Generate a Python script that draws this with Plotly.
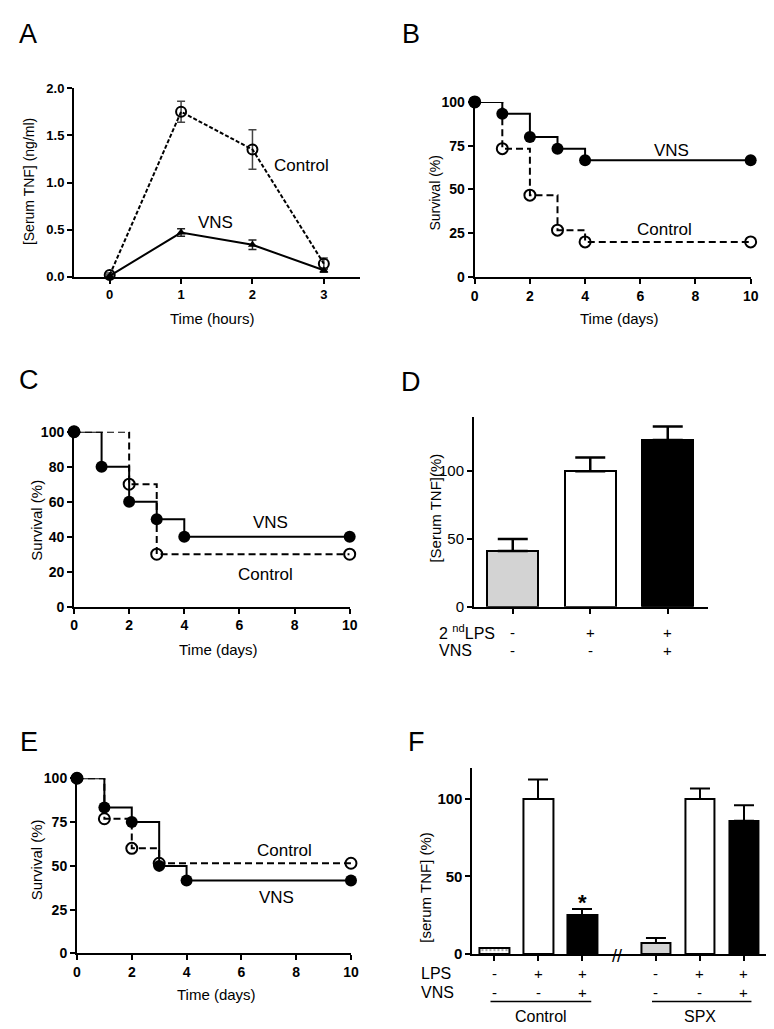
import plotly.graph_objects as go

# ---- data ----
# A: serum TNF over time
hours = [0, 1, 2, 3]
tnf_control = [0.02, 1.75, 1.35, 0.14]
tnf_control_err = [0.02, 0.11, 0.21, 0.06]
tnf_vns = [0.01, 0.47, 0.34, 0.07]
tnf_vns_err = [0.01, 0.04, 0.05, 0.02]

# B: survival
b_days_vns = [0, 1, 2, 3, 4, 10]
b_surv_vns = [100, 93.3, 80, 73.3, 66.7, 66.7]
b_days_ctrl = [0, 1, 2, 3, 4, 10]
b_surv_ctrl = [100, 73.3, 46.7, 26.7, 20, 20]

# C: survival
c_days_vns = [0, 1, 2, 3, 4, 10]
c_surv_vns = [100, 80, 60, 50, 40, 40]
c_days_ctrl = [0, 2, 3, 10]
c_surv_ctrl = [100, 70, 30, 30]

# D: serum TNF (%)
d_values = [41, 100, 123]
d_err = [9, 10, 10]
d_colors = ["#d3d3d3", "white", "black"]
d_lps = ["-", "+", "+"]
d_vns = ["-", "-", "+"]

# E: survival after SPX
e_days_vns = [0, 1, 2, 3, 4, 10]
e_surv_vns = [100, 83.3, 75, 50, 41.7, 41.7]
e_days_ctrl = [0, 1, 2, 3, 10]
e_surv_ctrl = [100, 76.9, 60, 51.5, 51.5]

# F: serum TNF (%), control vs SPX
f_values = [3.8, 100, 25, 7, 100, 86]
f_err = [0, 12.6, 4, 3.2, 6.8, 10]
f_colors = ["white", "white", "black", "#d3d3d3", "white", "black"]
f_lps = ["-", "+", "+", "-", "+", "+"]
f_vns = ["-", "-", "+", "-", "-", "+"]
f_gap = 0.68  # extra space at the axis break

W, H = 774, 1029
FONT = "Liberation Sans, Arial, sans-serif"


def px(x):
    return x / W


def py(y):
    return 1 - y / H


fig = go.Figure()

# ---- A ----
fig.add_trace(go.Scatter(
    x=hours, y=tnf_control, mode="lines+markers", xaxis="x", yaxis="y",
    line=dict(color="black", width=2, dash="4px,2px"),
    marker=dict(symbol="circle-open", size=10, color="black", line=dict(width=2)),
    error_y=dict(type="data", array=tnf_control_err, color="#444", thickness=1.5, width=4),
    cliponaxis=False))
fig.add_trace(go.Scatter(
    x=hours, y=tnf_vns, mode="lines+markers", xaxis="x", yaxis="y",
    line=dict(color="black", width=2),
    marker=dict(symbol="triangle-up", size=8, color="black"),
    error_y=dict(type="data", array=tnf_vns_err, color="#222", thickness=1.5, width=4),
    cliponaxis=False))


def survival(days_c, surv_c, days_v, surv_v, xa, ya):
    fig.add_trace(go.Scatter(
        x=days_c, y=surv_c, mode="lines+markers", xaxis=xa, yaxis=ya,
        line=dict(color="black", width=2, dash="7px,4px", shape="hv"),
        marker=dict(symbol="circle-open", size=11, color="black", line=dict(width=2)),
        cliponaxis=False))
    fig.add_trace(go.Scatter(
        x=days_v, y=surv_v, mode="lines+markers", xaxis=xa, yaxis=ya,
        line=dict(color="black", width=2, shape="hv"),
        marker=dict(symbol="circle", size=12, color="black"),
        cliponaxis=False))


survival(b_days_ctrl, b_surv_ctrl, b_days_vns, b_surv_vns, "x2", "y2")
survival(c_days_ctrl, c_surv_ctrl, c_days_vns, c_surv_vns, "x3", "y3")
survival(e_days_ctrl, e_surv_ctrl, e_days_vns, e_surv_vns, "x5", "y5")

# ---- D ----
d_x = list(range(len(d_values)))
fig.add_trace(go.Bar(
    x=d_x, y=d_values, xaxis="x4", yaxis="y4", width=0.66,
    marker=dict(color=d_colors, line=dict(color="black", width=2)),
    error_y=dict(type="data", array=d_err, arrayminus=[0] * len(d_err),
                 color="black", thickness=2.5, width=15)))

# ---- F ----
f_x = [i if i < 3 else i + f_gap for i in range(len(f_values))]
fig.add_trace(go.Bar(
    x=f_x, y=f_values, xaxis="x6", yaxis="y6", width=0.68,
    marker=dict(color=f_colors, line=dict(color="black", width=2),
                pattern=dict(shape=[".", "", "", "", "", ""], fgcolor="black",
                             size=4, solidity=0.25)),
    error_y=dict(type="data", array=f_err, arrayminus=[0] * len(f_err),
                 color="black", thickness=2, width=10)))


def axis(domain, rng, anchor, tickvals=None, bold=True, size=13, fmt=None, showlabels=True):
    d = dict(domain=domain, range=rng, anchor=anchor, showgrid=False, zeroline=False,
             showline=True, linecolor="black", linewidth=2,
             ticks="outside", ticklen=5, tickwidth=2, tickcolor="black",
             showticklabels=showlabels,
             tickfont=dict(family=FONT, size=size, color="black", weight=700 if bold else 400),
             fixedrange=True)
    if tickvals is not None:
        d["tickvals"] = tickvals
    if fmt:
        d["tickformat"] = fmt
    return d


surv_x = [0, 2, 4, 6, 8, 10]
fig.update_layout(
    xaxis=axis([px(63), px(353)], [-0.5, 3.5], "y", hours, size=13),
    yaxis=axis([py(265), py(73.3)], [0, 2.0], "x", [0, 0.5, 1.0, 1.5, 2.0], size=13, fmt=".1f"),
    xaxis2=axis([px(470), px(750.3)], [0, 10], "y2", surv_x, size=14),
    yaxis2=axis([py(265), py(87.3)], [0, 100], "x2", [0, 25, 50, 75, 100], size=14),
    xaxis3=axis([px(63), px(343)], [0, 10], "y3", surv_x, size=14),
    yaxis3=axis([py(600), py(422.3)], [0, 100], "x3", [0, 20, 40, 60, 80, 100], size=14),
    xaxis4=axis([px(469.3), px(707)], [-0.5, 2.52], "y4", d_x, showlabels=False),
    yaxis4=axis([py(600), py(407.3)], [0, 140], "x4", [0, 50, 100], bold=False, size=15),
    xaxis5=axis([px(66), px(344.3)], [0, 10], "y5", surv_x, size=14),
    yaxis5=axis([py(952.3), py(774.3)], [0, 100], "x5", [0, 25, 50, 75, 100], size=14),
    xaxis6=axis([px(467.7), px(766.3)], [-0.49, 6.19], "y6", f_x, showlabels=False),
    yaxis6=axis([py(952.7), py(764)], [0, 120], "x6", [0, 50, 100], size=15),
)

ann = []


def text(t, x, y, size=16, xref="paper", yref="paper", angle=0, xanchor="center", yanchor="middle", bold=False):
    ann.append(dict(text=t, x=x, y=y, xref=xref, yref=yref, showarrow=False, textangle=angle,
                    xanchor=xanchor, yanchor=yanchor,
                    font=dict(family=FONT, size=size, color="black", weight=700 if bold else 400)))


# panel letters
for letter, lx, ly in [("A", 16, 18), ("B", 405, 18), ("C", 17, 370),
                       ("D", 405, 372), ("E", 17, 737), ("F", 411, 737)]:
    text(letter, px(lx), py(ly), size=27)

# axis titles
text("[Serum TNF] (ng/ml)", px(18), py(168), size=14, angle=-90)
text("Time (hours)", px(203), py(307), size=15)
text("Survival (%)", px(430), py(180), size=14, angle=-90)
text("Time (days)", px(617), py(307), size=15)
text("Survival (%)", px(24), py(512), size=15, angle=-90)
text("Time (days)", px(210), py(643), size=15)
text("[Serum TNF](%)", px(430), py(500), size=15, angle=-90)
text("Survival (%)", px(25), py(857), size=15, angle=-90)
text("Time (days)", px(208), py(994), size=15)
text("[serum TNF] (%)", px(420), py(885), size=15, angle=-90)

# in-plot labels
text("Control", 2.68, 1.18, xref="x", yref="y", size=17)
text("VNS", 1.48, 0.58, xref="x", yref="y", size=17)
text("VNS", 7.13, 72, xref="x2", yref="y2", size=17)
text("Control", 6.88, 27, xref="x2", yref="y2", size=17)
text("VNS", 7.14, 48.4, xref="x3", yref="y3", size=17)
text("Control", 6.93, 18.6, xref="x3", yref="y3", size=17)
text("Control", 7.57, 58.8, xref="x5", yref="y5", size=17)
text("VNS", 7.27, 32.2, xref="x5", yref="y5", size=17)
text("SPX", 0.86, 114.6, xref="x5", yref="y5", size=17)

# D condition rows
text("2 <sup>nd</sup>LPS", px(432), py(626), xanchor="left")
text("VNS", px(432), py(645), xanchor="left")
for xi, a, b in zip(d_x, d_lps, d_vns):
    text(a, xi, py(626), size=15, xref="x4")
    text(b, xi, py(645), size=15, xref="x4")

# F condition rows
text("LPS", px(413), py(973), xanchor="left")
text("VNS", px(413), py(992), xanchor="left")
for xi, a, b in zip(f_x, f_lps, f_vns):
    text(a, xi, py(973), size=15, xref="x6")
    text(b, xi, py(992), size=15, xref="x6")
text("*", f_x[2], 33, size=22, xref="x6", yref="y6", bold=True)
text("//", 2.8 + f_gap / 2 - 0.34, py(955), size=18, xref="x6")
text("Control", 1.06, py(1016), xref="x6")
text("SPX", 4.68, py(1016), xref="x6")

shapes = [
    dict(type="line", xref="x6", yref="paper", x0=-0.08, x1=2.21, y0=py(1001), y1=py(1001),
         line=dict(color="black", width=1.5)),
    dict(type="line", xref="x6", yref="paper", x0=3.59, x1=5.85, y0=py(1001), y1=py(1001),
         line=dict(color="black", width=1.5)),
]

fig.update_layout(
    width=W, height=H, margin=dict(l=0, r=0, t=0, b=0),
    paper_bgcolor="white", plot_bgcolor="white", showlegend=False,
    annotations=ann, shapes=shapes, bargap=0,
    font=dict(family=FONT, color="black"),
)

fig.write_html("out.html")
